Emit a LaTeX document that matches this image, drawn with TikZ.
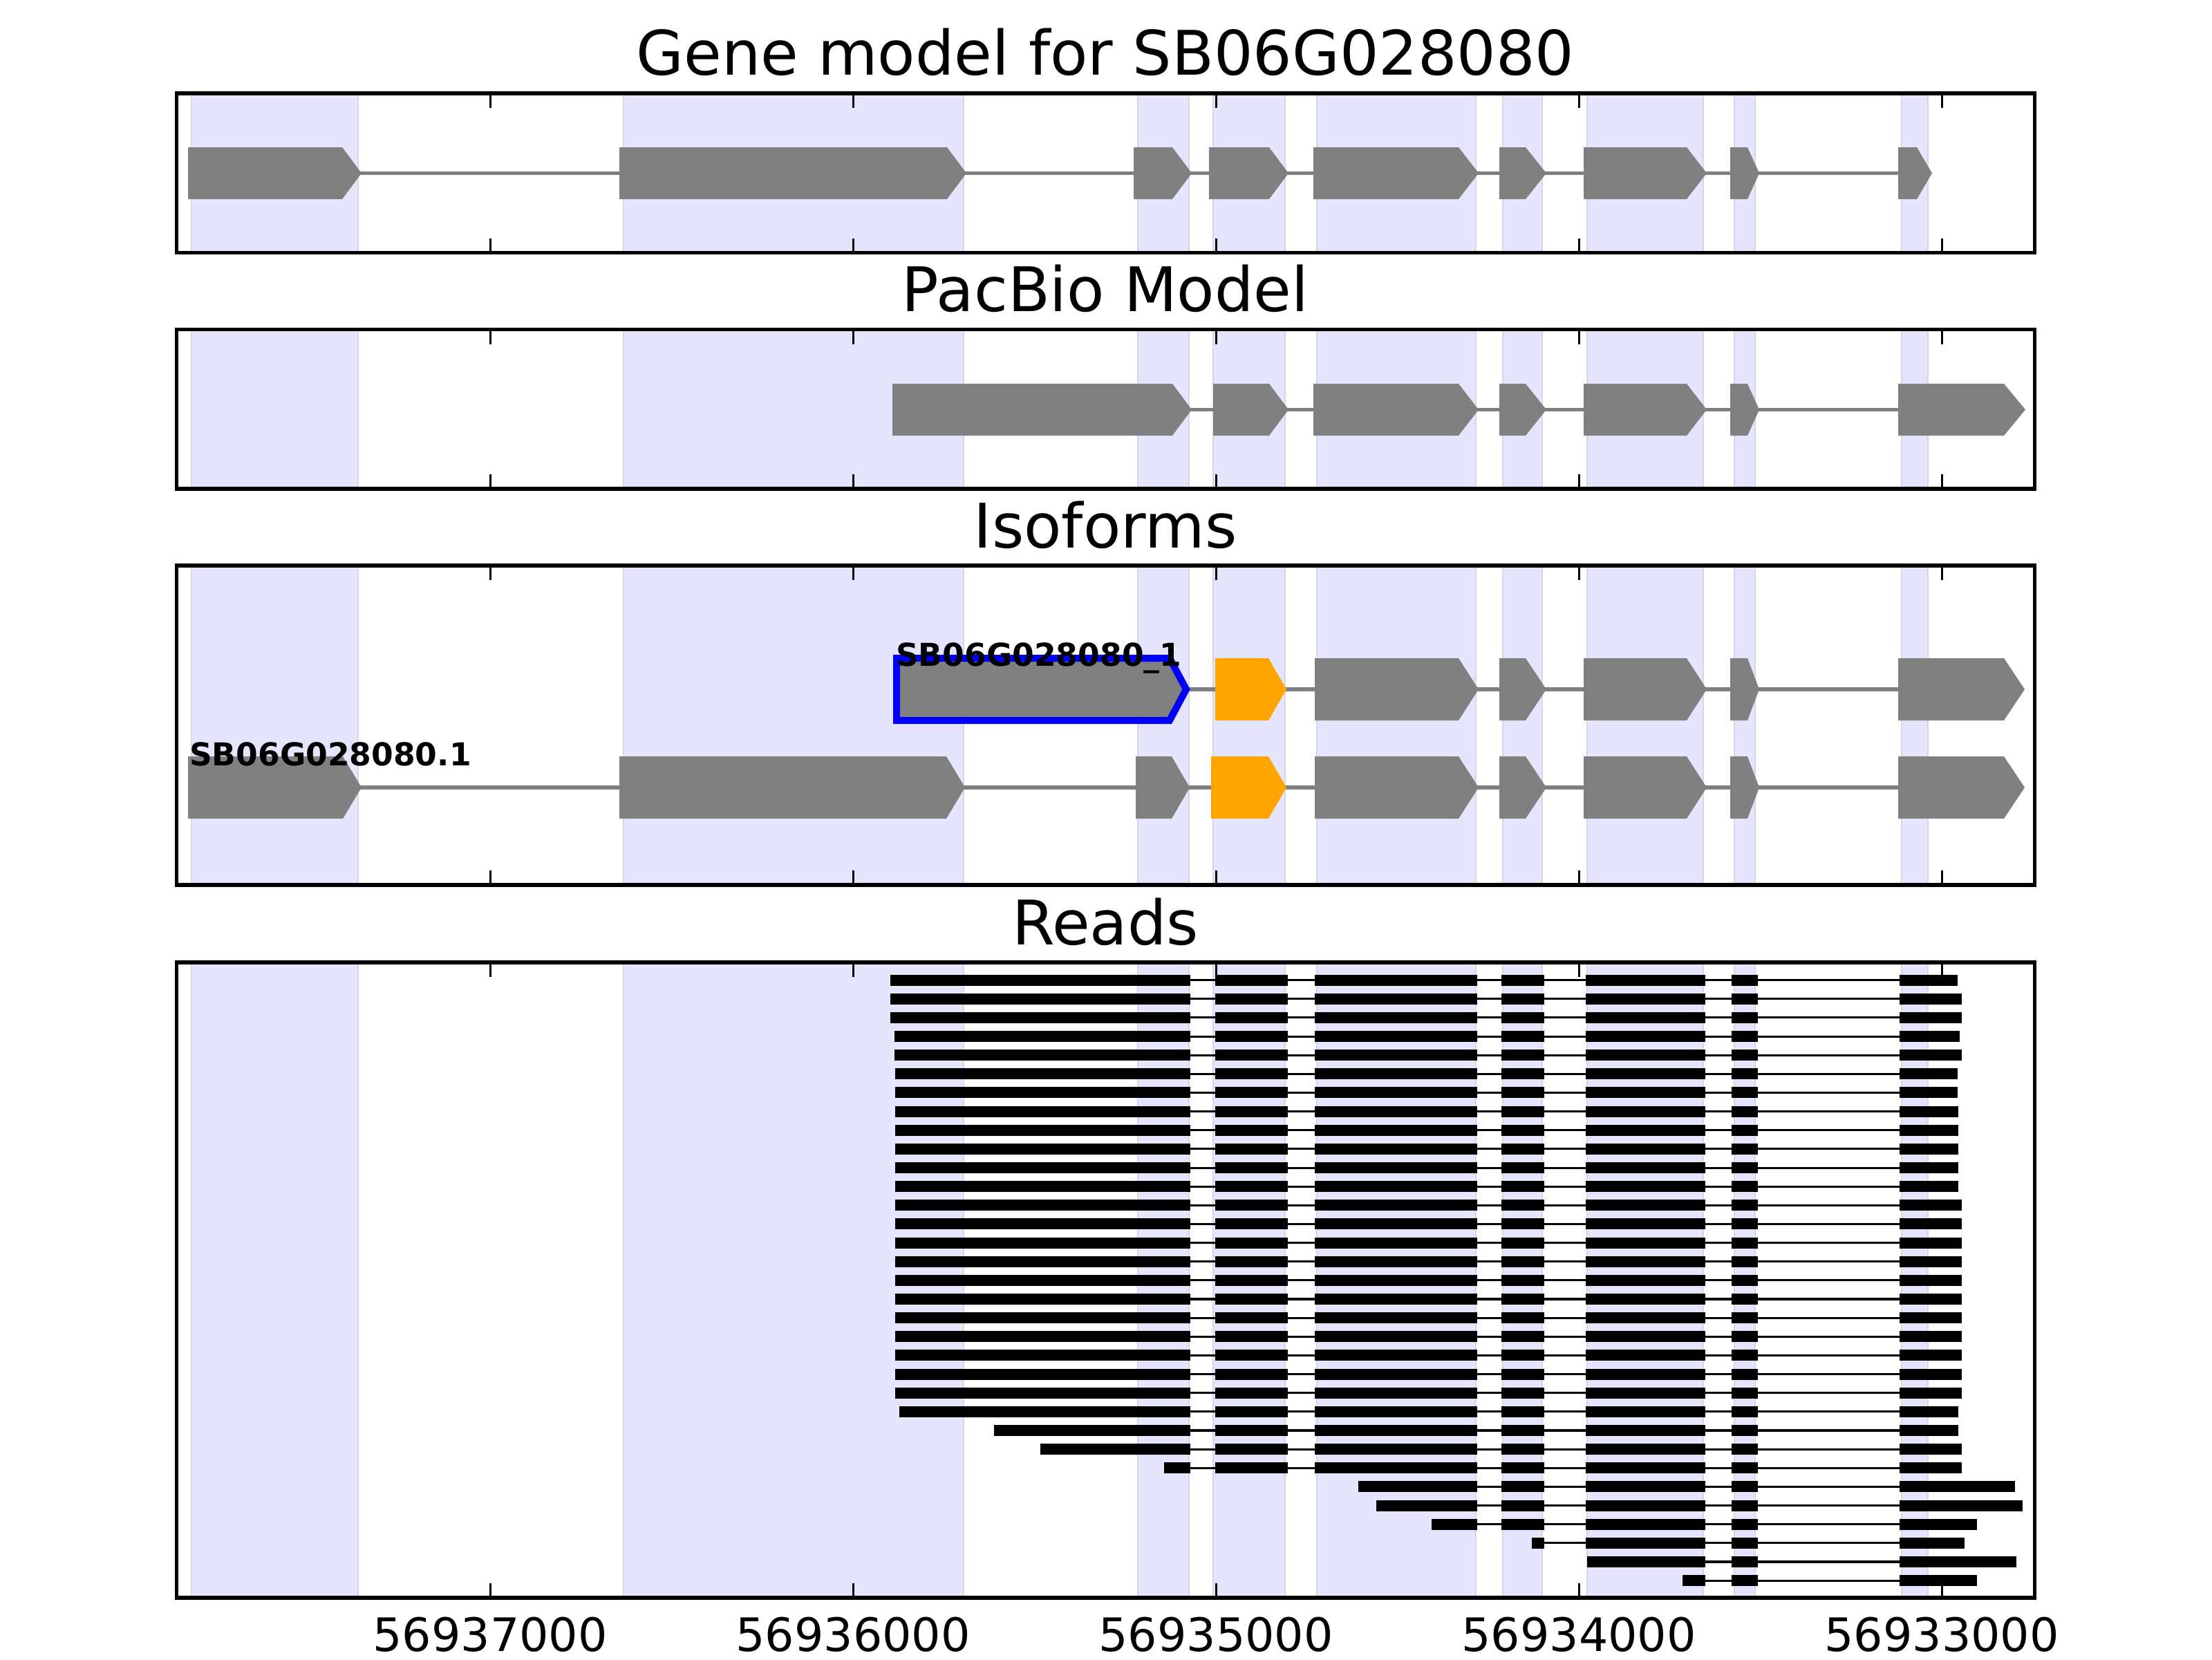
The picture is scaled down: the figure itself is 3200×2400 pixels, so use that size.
\documentclass[tikz,border=0pt]{standalone}
\usepackage{fontspec}
\setmainfont{DejaVu Sans}
\definecolor{exgray}{RGB}{128,128,128}
\definecolor{shadefill}{RGB}{229,229,253}
\definecolor{shadeline}{RGB}{214,214,232}
\definecolor{exorange}{RGB}{255,165,0}
\newcommand\myshades[2]{%
  \foreach \l/\r in {277/518,902/1394,1646/1720,1755/1859,1905/2135,2174/2231,2296/2464,2509/2539,2751/2789}{%
    \fill[shadefill] (\l,#1) rectangle (\r,#2);
    \draw[shadeedge] (\l,#1) -- (\l,#2) (\r,#1) -- (\r,#2);
  }}
\newcommand\myframe[2]{%
  \draw[frameline] (255.5,#1) rectangle (2943.5,#2);
  \foreach \t in {709.2,1234.2,1759.2,2284.2,2809.2}{%
    \draw[tickline] (\t,#1) -- ++(0,21);
    \draw[tickline] (\t,#2) -- ++(0,-21);
  }}
% exon arrow: start, flat end, tip, centre y, half height, style
\newcommand\ex[6]{\path[#6] (#1,{#4-#5}) -- (#2,{#4-#5}) -- (#3,#4) -- (#2,{#4+#5}) -- (#1,{#4+#5}) -- cycle;}
% read rows
\newcommand\fullrd[3]{%
  \pgfmathsetmacro\yy{1417.6+27.14*(#1-1)}%
  \draw[rintron] (#2,\yy) -- (#3,\yy);
  \foreach \a/\b in {#2/1722,1758/1863,1902/2137,2172/2234,2294/2467,2505/2543,2748/#3}{%
    \fill[black] (\a,{\yy-8}) rectangle (\b,{\yy+8});
  }}
\newcommand\prd[4]{%
  \pgfmathsetmacro\yy{1417.6+27.14*(#1-1)}%
  \draw[rintron] (#2,\yy) -- (#3,\yy);
  \foreach \a/\b in {#4}{%
    \fill[black] (\a,{\yy-8}) rectangle (\b,{\yy+8});
  }}
\begin{document}
\begin{tikzpicture}[x=0.18pt,y=-0.18pt,
  shadeedge/.style={draw=shadeline,line width=0.5pt},
  frameline/.style={draw=black,line width=1pt},
  tickline/.style={draw=black,line width=0.5pt},
  intron/.style={draw=exgray,line width=1pt},
  rintron/.style={draw=black,line width=0.55pt},
  exg/.style={fill=exgray},
  exo/.style={fill=exorange},
  exsel/.style={fill=exgray,draw=blue,line width=1.8pt,line join=miter},
  title/.style={inner sep=0pt,anchor=base,font=\fontsize{16}{19}\selectfont},
  ticklab/.style={inner sep=0pt,anchor=base,font=\fontsize{12}{14}\selectfont},
  isolab/.style={inner sep=0pt,anchor=base west,font=\fontsize{8.2}{10}\selectfont\bfseries}]
\useasboundingbox (0,0) rectangle (3200,2400);
\fill[white] (0,0) rectangle (3200,2400);

% ---------- Panel 1: gene model ----------
\myshades{135}{365.5}
\draw[intron] (272,250.5) -- (2746,250.5);
\ex{272}{495}{523}{250.5}{37.5}{exg}
\ex{896}{1370}{1398}{250.5}{37.5}{exg}
\ex{1640}{1696}{1724}{250.5}{37.5}{exg}
\ex{1749}{1836}{1864}{250.5}{37.5}{exg}
\ex{1900}{2110}{2139}{250.5}{37.5}{exg}
\ex{2169}{2207}{2237}{250.5}{37.5}{exg}
\ex{2291}{2440}{2469}{250.5}{37.5}{exg}
\ex{2503}{2528}{2545}{250.5}{37.5}{exg}
\ex{2746}{2773}{2795}{250.5}{37.5}{exg}
\myframe{135}{365.5}
\node[title] (t1) at (1599,108.5) {Gene model for SB06G028080};

% ---------- Panel 2: PacBio model ----------
\myshades{476.5}{707}
\draw[intron] (1291,592.5) -- (2746,592.5);
\ex{1291}{1696}{1724}{592.5}{37.5}{exg}
\ex{1755}{1836}{1864}{592.5}{37.5}{exg}
\ex{1900}{2110}{2139}{592.5}{37.5}{exg}
\ex{2169}{2207}{2237}{592.5}{37.5}{exg}
\ex{2291}{2440}{2469}{592.5}{37.5}{exg}
\ex{2503}{2528}{2545}{592.5}{37.5}{exg}
\ex{2746}{2899}{2930}{592.5}{37.5}{exg}
\myframe{476.5}{707}
\node[title] (t2) at (1599,450) {PacBio Model};

% ---------- Panel 3: isoforms ----------
\myshades{818}{1280}
\draw[intron] (1297,997) -- (2746,997);
\ex{1297}{1692}{1716}{997}{45}{exsel}
\ex{1758}{1835}{1861}{997}{45}{exo}
\ex{1902}{2110}{2139}{997}{45}{exg}
\ex{2169}{2207}{2237}{997}{45}{exg}
\ex{2291}{2440}{2469}{997}{45}{exg}
\ex{2503}{2528}{2545}{997}{45}{exg}
\ex{2746}{2899}{2929}{997}{45}{exg}
\draw[intron] (272,1139) -- (2746,1139);
\ex{272}{496}{523}{1139}{45}{exg}
\ex{896}{1369}{1396}{1139}{45}{exg}
\ex{1643}{1695}{1721}{1139}{45}{exg}
\ex{1752}{1835}{1861}{1139}{45}{exo}
\ex{1902}{2110}{2139}{1139}{45}{exg}
\ex{2169}{2207}{2237}{1139}{45}{exg}
\ex{2291}{2440}{2469}{1139}{45}{exg}
\ex{2503}{2528}{2545}{1139}{45}{exg}
\ex{2746}{2899}{2929}{1139}{45}{exg}
\node[isolab] (l1) at (1295,963) {SB06G028080\_1};
\node[isolab] (l2) at (273,1107) {SB06G028080.1};
\myframe{818}{1280}
\node[title] (t3) at (1599,792) {Isoforms};

% ---------- Panel 4: reads ----------
\myshades{1392}{2311}
\fullrd{1}{1288}{2832}
\fullrd{2}{1288}{2838}
\fullrd{3}{1288}{2838}
\fullrd{4}{1294}{2835}
\fullrd{5}{1294}{2838}
\fullrd{6}{1295}{2832}
\fullrd{7}{1295}{2832}
\fullrd{8}{1295}{2833}
\fullrd{9}{1295}{2833}
\fullrd{10}{1295}{2833}
\fullrd{11}{1295}{2833}
\fullrd{12}{1295}{2833}
\foreach \i in {13,...,23}{\fullrd{\i}{1295}{2838}}
\fullrd{24}{1301}{2833}
\fullrd{25}{1438}{2833}
\fullrd{26}{1505}{2838}
\fullrd{27}{1684}{2838}
\prd{28}{1965}{2915}{1965/2137,2172/2234,2294/2467,2505/2543,2748/2915}
\prd{29}{1991}{2926}{1991/2137,2172/2234,2294/2467,2505/2543,2748/2926}
\prd{30}{2071}{2860}{2071/2137,2172/2234,2294/2467,2505/2543,2748/2860}
\prd{31}{2216}{2842}{2216/2234,2294/2467,2505/2543,2748/2842}
\prd{32}{2296}{2917}{2296/2467,2505/2543,2748/2917}
\prd{33}{2434}{2860}{2434/2467,2505/2543,2748/2860}
\myframe{1392}{2311}
\node[title] (t4) at (1599,1366) {Reads};

% tick labels
\node[ticklab] (x1) at (709.2,2388) {56937000};
\node[ticklab] (x2) at (1234.2,2388) {56936000};
\node[ticklab] (x3) at (1759.2,2388) {56935000};
\node[ticklab] (x4) at (2284.2,2388) {56934000};
\node[ticklab] (x5) at (2809.2,2388) {56933000};
\end{tikzpicture}
\end{document}
